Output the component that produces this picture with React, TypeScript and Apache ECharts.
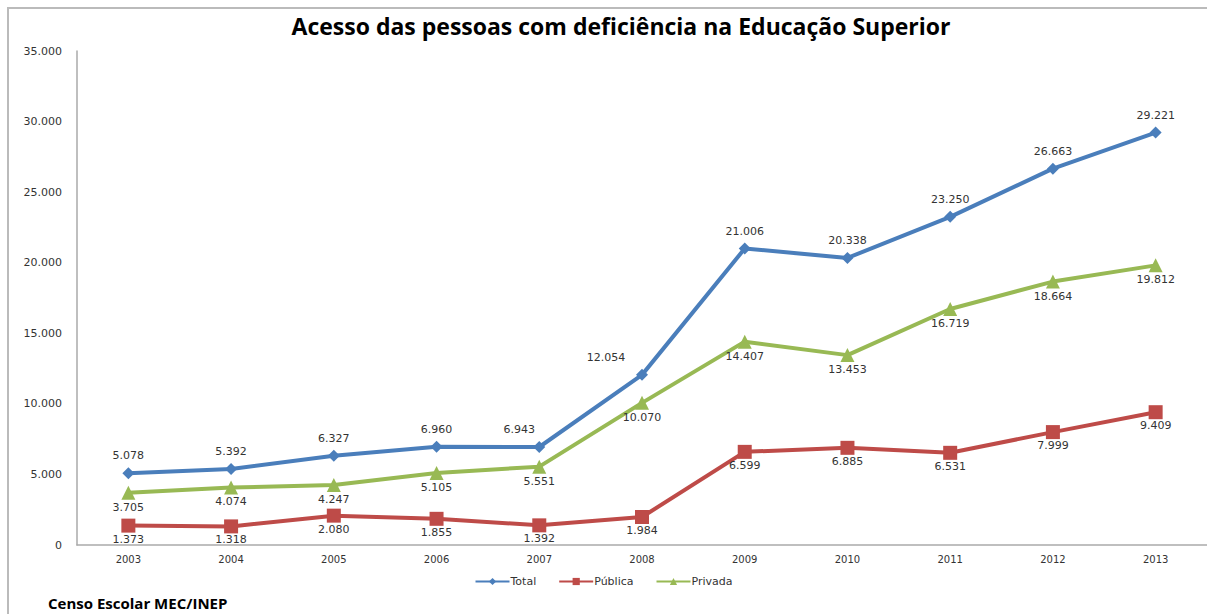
import React, { useEffect, useRef } from "react";
import * as echarts from "echarts";

const years = ["2003", "2004", "2005", "2006", "2007", "2008", "2009", "2010", "2011", "2012", "2013"];
const total = [5078, 5392, 6327, 6960, 6943, 12054, 21006, 20338, 23250, 26663, 29221];
const publica = [1373, 1318, 2080, 1855, 1392, 1984, 6599, 6885, 6531, 7999, 9409];
const privada = [3705, 4074, 4247, 5105, 5551, 10070, 14407, 13453, 16719, 18664, 19812];

const fmt = (v: number) => String(Math.round(v)).replace(/\B(?=(\d{3})+(?!\d))/g, ".");

export default function App() {
  const ref = useRef<HTMLDivElement>(null);
  useEffect(() => {
    const chart = echarts.init(ref.current!, undefined, { renderer: "svg" });
    const labelStyle = {
      show: true,
      fontSize: 11,
      fontFamily: "DejaVu Sans",
      color: "#333",
      formatter: (p: any) => fmt(p.value),
    };
    const totalData = total.map((v, i) => {
      if (i === 4) return { value: v, label: { offset: [-20, 0] } };
      if (i === 5) return { value: v, label: { offset: [-36, 0] } };
      return v;
    });
    chart.setOption({
      animation: false,
      backgroundColor: "#fff",
      title: {
        text: "Acesso das pessoas com deficiência na Educação Superior",
        left: 616,
        textAlign: "center",
        top: 9,
        textStyle: { fontFamily: "Open Sans", fontWeight: "bold", fontSize: 23, color: "#000" },
      },
      graphic: [
        {
          type: "polyline",
          shape: { points: [[8, 614], [8, 8], [1207, 8]] },
          style: { stroke: "#bbb", lineWidth: 2, fill: "none" },
        },
        {
          type: "text",
          left: 48,
          top: 595,
          style: {
            text: "Censo Escolar MEC/INEP",
            fontFamily: "Open Sans",
            fontWeight: "bold",
            fontSize: 15,
            fill: "#000",
          },
        },
      ],
      legend: {
        bottom: 22,
        left: "center",
        itemWidth: 34,
        itemHeight: 9,
        itemGap: 22,
        textStyle: { fontFamily: "DejaVu Sans", fontSize: 11, color: "#333", padding: [0, 0, 0, -4] },
        data: ["Total", "Pública", "Privada"],
      },
      grid: { left: 77, right: 0, top: 51, bottom: 69 },
      xAxis: {
        type: "category",
        data: years,
        boundaryGap: true,
        axisLine: { lineStyle: { color: "#aaa", width: 1.5 } },
        axisTick: { show: false },
        axisLabel: { fontFamily: "DejaVu Sans", fontSize: 10, color: "#333", margin: 9 },
      },
      yAxis: {
        type: "value",
        min: 0,
        max: 35000,
        interval: 5000,
        splitLine: { show: false },
        axisLine: { show: true, lineStyle: { color: "#aaa", width: 1.5 } },
        axisTick: { show: false },
        axisLabel: {
          fontFamily: "DejaVu Sans",
          fontSize: 11,
          color: "#333",
          margin: 15,
          formatter: (v: number) => fmt(v),
        },
      },
      series: [
        {
          name: "Total",
          type: "line",
          data: totalData,
          symbol: "diamond",
          symbolSize: 12,
          lineStyle: { width: 4, color: "#4A7EBB" },
          itemStyle: { color: "#4A7EBB" },
          label: { ...labelStyle, position: "top", distance: 6 },
        },
        {
          name: "Pública",
          type: "line",
          data: publica,
          symbol: "rect",
          symbolSize: 14,
          lineStyle: { width: 4, color: "#BE4B48" },
          itemStyle: { color: "#BE4B48" },
          label: { ...labelStyle, position: "bottom", distance: 1 },
        },
        {
          name: "Privada",
          type: "line",
          data: privada,
          symbol: "triangle",
          symbolSize: 14,
          lineStyle: { width: 4, color: "#98B954" },
          itemStyle: { color: "#98B954" },
          label: { ...labelStyle, position: "bottom", distance: 2 },
        },
      ],
    });
    return () => chart.dispose();
  }, []);
  return (
    <div
      ref={ref}
      style={{ position: "fixed", left: 0, top: 0, width: 1207, height: 614 }}
    />
  );
}
